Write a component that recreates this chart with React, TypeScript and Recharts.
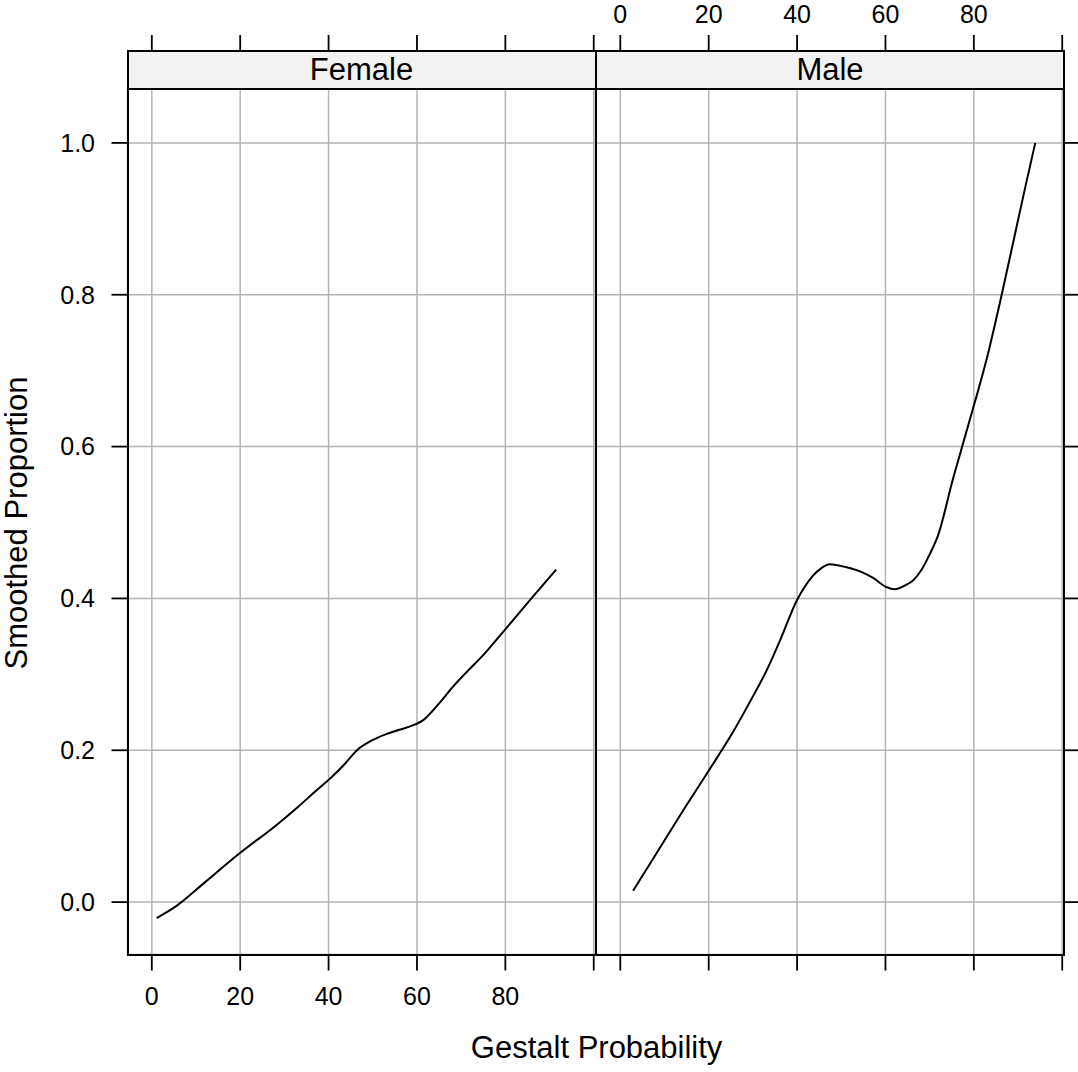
import React from 'react';
import { LineChart, Line, XAxis, YAxis, CartesianGrid } from 'recharts';

const FONT = '"Liberation Sans", Arial, Helvetica, sans-serif';

// shared scales for both panels
const xTicks = [0, 20, 40, 60, 80, 100];
const yTicks = [0, 0.2, 0.4, 0.6, 0.8, 1.0];
const xDomain: [number, number] = [-5.5, 100.4];
const yDomain: [number, number] = [-0.069, 1.071];

// smoothed curves, one per panel
const femaleGestalt = [1.1, 5.6, 12, 19.8, 28.1, 33, 37.8, 40, 43.5, 46.8, 49.8, 52.9, 56, 59.6, 61.5, 63.4, 65.5, 67.9, 70.9, 75.4, 79.5, 85.9, 91.5];
const femaleProportion = [-0.021, -0.005, 0.026, 0.064, 0.101, 0.125, 0.15, 0.161, 0.181, 0.202, 0.213, 0.221, 0.227, 0.234, 0.24, 0.251, 0.265, 0.282, 0.301, 0.328, 0.356, 0.4, 0.438];

const maleGestalt = [2.9, 8.9, 14.9, 20, 25.5, 30, 33.1, 36.1, 40, 41.7, 43.6, 45.5, 47.4, 51.2, 54.9, 57.2, 60.2, 62.1, 64.4, 66.3, 68.2, 70, 71.9, 75.3, 77.6, 80, 82.8, 86.3, 89.5, 91.8, 93.9];
const maleProportion = [0.015, 0.071, 0.127, 0.173, 0.224, 0.271, 0.305, 0.344, 0.398, 0.415, 0.43, 0.44, 0.445, 0.441, 0.434, 0.427, 0.415, 0.412, 0.417, 0.424, 0.438, 0.458, 0.483, 0.558, 0.605, 0.654, 0.713, 0.8, 0.885, 0.946, 1.0];

const panels = ['Female', 'Male'];

const toPoints = (xs: number[], ys: number[]) => xs.map((x, i) => ({ x, y: ys[i] }));

const tickText = { fill: '#000', fontSize: 25, fontFamily: FONT };
const tickLine = { stroke: '#000', strokeWidth: 1.8 };
const blank = () => '';
const xLabel = (v: number) => (v === 100 ? '' : String(v));

const Panel: React.FC<{ side: 'left' | 'right'; points: { x: number; y: number }[] }> = ({ side, points }) => {
  const isLeft = side === 'left';
  return (
    <LineChart
      width={isLeft ? 600 : 488}
      height={1072}
      margin={isLeft ? { top: 49, right: 4.5, bottom: 57.5, left: 47.5 } : { top: 49, right: 0, bottom: 57.5, left: 6 }}
    >
      <CartesianGrid stroke="#b3b3b3" strokeWidth={1.5} />
      <XAxis
        dataKey="x"
        type="number"
        domain={xDomain}
        ticks={xTicks}
        allowDataOverflow
        interval={0}
        height={60}
        axisLine={false}
        tickSize={16}
        tickMargin={17}
        tickLine={tickLine}
        tick={tickText}
        tickFormatter={isLeft ? xLabel : blank}
      />
      {/* top ticks run up past the strip; the strip box hides their inner part */}
      <XAxis
        xAxisId="top"
        orientation="top"
        dataKey="x"
        type="number"
        domain={xDomain}
        ticks={xTicks}
        allowDataOverflow
        interval={0}
        height={40}
        axisLine={false}
        tickSize={54}
        tickMargin={12.5}
        tickLine={tickLine}
        tick={tickText}
        tickFormatter={isLeft ? blank : xLabel}
      />
      <YAxis
        type="number"
        orientation={side}
        domain={yDomain}
        ticks={yTicks}
        allowDataOverflow
        interval={0}
        width={isLeft ? 80 : 14}
        axisLine={false}
        tickSize={16}
        tickMargin={16.5}
        tickLine={tickLine}
        tick={tickText}
        tickFormatter={isLeft ? (v: number) => v.toFixed(1) : blank}
      />
      <Line
        data={points}
        dataKey="y"
        type="monotone"
        stroke="#000"
        strokeWidth={2}
        dot={false}
        isAnimationActive={false}
      />
      {/* same curve bound to the top axis so that axis gets drawn */}
      <Line
        xAxisId="top"
        data={points}
        dataKey="y"
        type="monotone"
        stroke="none"
        dot={false}
        activeDot={false}
        isAnimationActive={false}
      />
    </LineChart>
  );
};

const App: React.FC = () => {
  const frameLefts = [126.5, 595];
  return (
    <div style={{ position: 'absolute', left: 0, top: 0, width: 1078, height: 1072, background: '#fff', fontFamily: FONT, overflow: 'hidden' }}>
      <div style={{ position: 'absolute', left: 0, top: 0 }}>
        <Panel side="left" points={toPoints(femaleGestalt, femaleProportion)} />
      </div>
      <div style={{ position: 'absolute', left: 590, top: 0 }}>
        <Panel side="right" points={toPoints(maleGestalt, maleProportion)} />
      </div>

      {panels.map((name, i) => (
        <React.Fragment key={name}>
          <div
            style={{
              position: 'absolute',
              left: frameLefts[i],
              top: 88,
              width: 470,
              height: 868,
              border: '2px solid #000',
              boxSizing: 'border-box',
              pointerEvents: 'none',
            }}
          />
          <div
            style={{
              position: 'absolute',
              left: frameLefts[i],
              top: 50,
              width: 470,
              height: 40,
              border: '2px solid #000',
              boxSizing: 'border-box',
              background: '#f2f2f2',
              display: 'flex',
              alignItems: 'center',
              justifyContent: 'center',
              fontSize: 31,
              color: '#000',
            }}
          >
            {name}
          </div>
        </React.Fragment>
      ))}

      <div
        style={{
          position: 'absolute',
          left: 17,
          top: 523,
          transform: 'translate(-50%, -50%) rotate(-90deg)',
          whiteSpace: 'nowrap',
          fontSize: 31,
          color: '#000',
        }}
      >
        Smoothed Proportion
      </div>
      <div
        style={{
          position: 'absolute',
          left: 596.6,
          top: 1030,
          transform: 'translateX(-50%)',
          whiteSpace: 'nowrap',
          fontSize: 31,
          color: '#000',
        }}
      >
        Gestalt Probability
      </div>
    </div>
  );
};

export default App;
